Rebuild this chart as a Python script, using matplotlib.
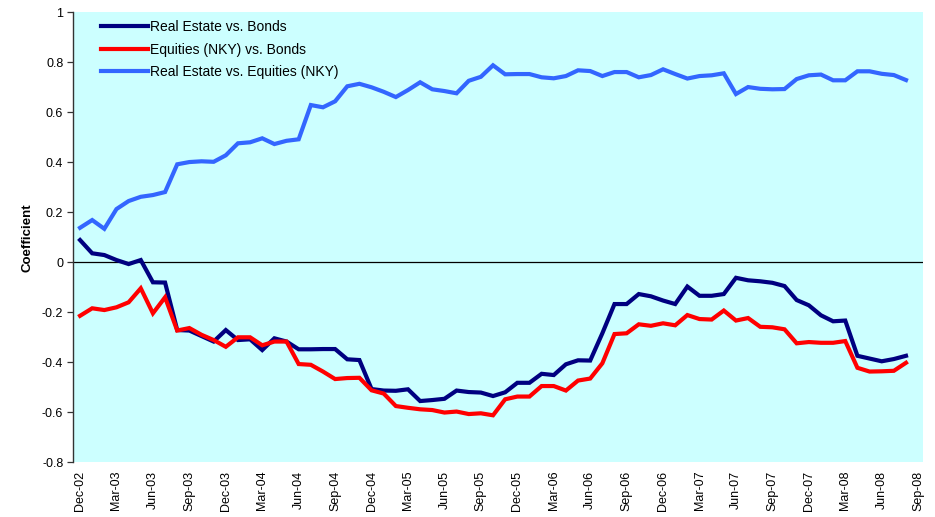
import matplotlib
matplotlib.use("Agg")
import matplotlib.pyplot as plt

plt.rcParams['font.family'] = ['Liberation Sans', 'DejaVu Sans']

tick_labels = ["Dec-02", "Mar-03", "Jun-03", "Sep-03", "Dec-03", "Mar-04", "Jun-04",
               "Sep-04", "Dec-04", "Mar-05", "Jun-05", "Sep-05", "Dec-05", "Mar-06",
               "Jun-06", "Sep-06", "Dec-06", "Mar-07", "Jun-07", "Sep-07", "Dec-07",
               "Mar-08", "Jun-08", "Sep-08"]

re_vs_bonds = [0.089, 0.036, 0.029, 0.009, -0.007, 0.009, -0.080, -0.081, -0.271, -0.273,
               -0.295, -0.317, -0.271, -0.311, -0.308, -0.351, -0.304, -0.317, -0.348, -0.348,
               -0.347, -0.347, -0.388, -0.391, -0.507, -0.513, -0.514, -0.508, -0.555, -0.551,
               -0.546, -0.513, -0.519, -0.521, -0.535, -0.520, -0.482, -0.482, -0.446, -0.451,
               -0.408, -0.392, -0.393, -0.284, -0.167, -0.167, -0.127, -0.136, -0.153, -0.167,
               -0.097, -0.134, -0.134, -0.127, -0.062, -0.072, -0.076, -0.082, -0.095, -0.151,
               -0.172, -0.212, -0.236, -0.233, -0.374, -0.385, -0.396, -0.387, -0.374]

eq_vs_bonds = [-0.214, -0.184, -0.191, -0.180, -0.160, -0.104, -0.204, -0.140, -0.273, -0.263,
               -0.290, -0.311, -0.338, -0.300, -0.300, -0.332, -0.317, -0.317, -0.407, -0.410,
               -0.437, -0.467, -0.463, -0.462, -0.512, -0.525, -0.575, -0.582, -0.588, -0.591,
               -0.601, -0.597, -0.607, -0.604, -0.612, -0.548, -0.537, -0.537, -0.495, -0.495,
               -0.513, -0.473, -0.465, -0.404, -0.287, -0.284, -0.248, -0.254, -0.244, -0.252,
               -0.211, -0.227, -0.229, -0.193, -0.233, -0.223, -0.258, -0.260, -0.268, -0.324,
               -0.319, -0.322, -0.322, -0.315, -0.422, -0.437, -0.436, -0.434, -0.402]

re_vs_eq = [0.138, 0.169, 0.134, 0.213, 0.245, 0.262, 0.269, 0.281, 0.392, 0.401,
            0.404, 0.402, 0.428, 0.476, 0.480, 0.496, 0.473, 0.486, 0.492, 0.629,
            0.620, 0.644, 0.704, 0.714, 0.700, 0.682, 0.661, 0.689, 0.720, 0.692,
            0.685, 0.676, 0.726, 0.742, 0.788, 0.752, 0.753, 0.753, 0.740, 0.736,
            0.745, 0.768, 0.765, 0.745, 0.761, 0.761, 0.740, 0.749, 0.772, 0.753,
            0.735, 0.745, 0.748, 0.756, 0.673, 0.701, 0.694, 0.692, 0.693, 0.733,
            0.748, 0.751, 0.728, 0.728, 0.764, 0.764, 0.754, 0.749, 0.729]

series_names = ["Real Estate vs. Bonds", "Equities (NKY) vs. Bonds", "Real Estate vs. Equities (NKY)"]
colors = ["#000080", "#FF0000", "#3366FF"]

fig = plt.figure(figsize=(9.35, 5.17), dpi=100)
W, H = 935, 517
ax = fig.add_axes([73 / W, (H - 462.3) / H, (923 - 73) / W, (462.3 - 12.3) / H])
ax.set_facecolor("#CCFFFF")

x = list(range(len(re_vs_bonds)))
for vals, name, c in zip([re_vs_bonds, eq_vs_bonds, re_vs_eq], series_names, colors):
    ax.plot(x, vals, color=c, lw=3.0, label=name, solid_joinstyle='miter', zorder=3)

ax.axhline(0, color="black", lw=0.9, zorder=2)

ax.set_ylim(-0.8, 1.0)
ax.set_xlim(-0.58, 69.4)
yt = [-0.8, -0.6, -0.4, -0.2, 0, 0.2, 0.4, 0.6, 0.8, 1.0]
ax.set_yticks(yt)
ax.set_yticklabels(["%g" % v for v in yt], fontsize=9)
ax.set_xticks([3 * i for i in range(len(tick_labels))])
ax.set_xticklabels(tick_labels, rotation=90, fontsize=9)
ax.tick_params(axis='x', length=0, pad=6)
ax.tick_params(axis='y', length=4, width=0.9, color="#333333", direction='out', pad=3)

for s in ["top", "right", "bottom"]:
    ax.spines[s].set_visible(False)
ax.spines["left"].set_color("#333333")
ax.spines["left"].set_linewidth(1.0)

ax.set_ylabel("Coefficient", fontsize=9.5, fontweight="bold", labelpad=6)

leg = ax.legend(loc="upper left", bbox_to_anchor=(0.033, 0.983), frameon=False,
                fontsize=10, handlelength=3.4, handletextpad=0.12, labelspacing=0.62,
                borderaxespad=0, borderpad=0)

fig.savefig("out.png", dpi=100)
